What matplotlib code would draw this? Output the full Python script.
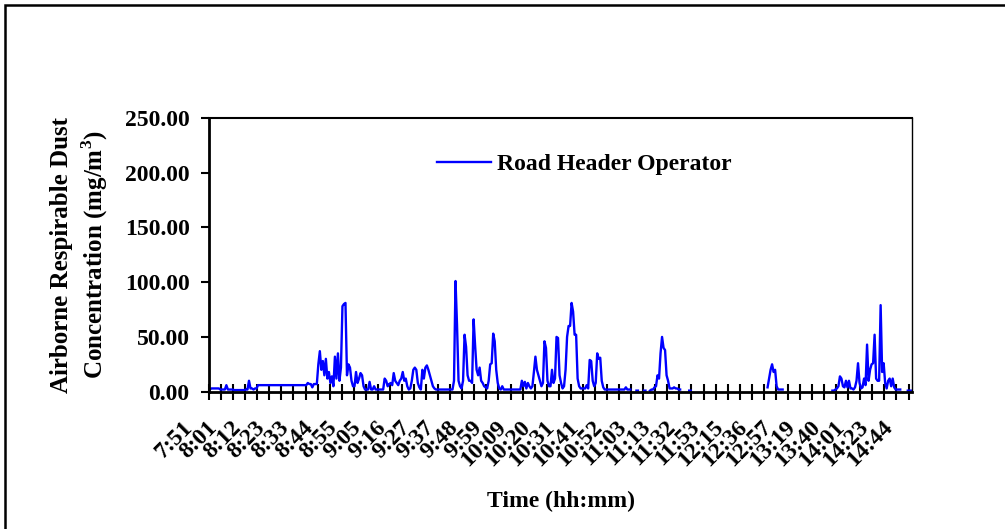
import numpy as np
import matplotlib
matplotlib.use("Agg")
import matplotlib.pyplot as plt
from matplotlib.patches import Rectangle
import matplotlib.transforms as mtransforms

plt.rcParams['font.family'] = ['Liberation Serif', 'DejaVu Serif']
plt.rcParams['font.weight'] = 'bold'
plt.rcParams['mathtext.fontset'] = 'custom'
plt.rcParams['mathtext.bf'] = 'Liberation Serif:bold'
plt.rcParams['mathtext.rm'] = 'Liberation Serif:bold'

time_labels = ['7:51', '8:01', '8:12', '8:23', '8:33', '8:44', '8:55', '9:05', '9:16',
               '9:27', '9:37', '9:48', '9:59', '10:09', '10:20', '10:31', '10:41',
               '10:52', '11:03', '11:13', '11:32', '11:53', '12:15', '12:36', '12:57',
               '13:19', '13:40', '14:01', '14:23', '14:44']

N = None
concentration = [
    2, 3, 3, 3, 3, 3, 3, 2,
    2, 2, 2, 6, 2, 2, 2, 2,
    1.5, 1.5, 1.5, 1.5, 1.5, 1.5, 1.5, 1.5,
    2, 2, 10, 3, 3, 2, 3, 3,
    6, 6, 6, 6, 6, 6, 6, 6,
    6, 6, 6, 6, 6, 6, 6, 6,
    6, 6, 6, 6, 6, 6, 6, 6,
    6, 6, 6, 6, 6, 6, 6, 6,
    6, 8, 7, 7, 4, 7, 7, 7,
    25, 37, 20, 28, 15, 30, 12, 18,
    8, 14, 5, 32, 12, 35, 10, 22,
    78, 80, 81, 15, 25, 22, 10, 5,
    5, 18, 8, 12, 17, 15, 5, 2,
    2, 2, 9, 2, 2, 5, 2, 2,
    2, 2, 2, 2, 12, 10, 5, 7,
    8, 6, 17, 10, 8, 6, 10, 12,
    18, 10, 12, 5, 2, 3, 10, 20,
    22, 20, 8, 4, 2, 20, 12, 22,
    24, 20, 15, 10, 5, 3, 2, 2,
    2, 2, 2, 2, 2, 2, 2, 2,
    2, 2, 10, 101, 61, 10, 5, 3,
    10, 52, 41, 15, 10, 10, 8, 66,
    42, 20, 15, 22, 10, 8, 5, 4,
    3, 10, 25, 26, 53, 46, 20, 8,
    3, 2, 5, 2, 2, 2, 2, 2,
    2, 2, 2, 2, 2, 2, 2, 10,
    5, 9, 3, 8, 5, 3, 5, 18,
    32, 20, 15, 10, 5, 8, 46, 40,
    10, 5, 5, 20, 8, 12, 50, 49,
    15, 8, 3, 5, 20, 50, 60, 60,
    81, 73, 52, 52, 12, 5, 3, 3,
    3, 3, 6, 3, 29, 28, 10, 5,
    8, 35, 30, 31, 10, 4, 2, 2,
    2, 2, 2, 2, 2, 2, 2, 2,
    2, 2, 2, 2, 4, 2, 2, 2,
    N, N, N, 1, 1, N, N, N,
    1, 1, N, N, 1, 2, 2, 4,
    5, 15, 12, 35, 50, 40, 38, 15,
    10, 3, 3, 3, 4, 3, 3, 2,
    2, N, N, N, N, N, 1, 1,
    N, N, N, N, N, N, N, N,
    N, N, N, N, N, N, N, N,
    N, N, N, N, N, N, N, N,
    N, N, N, N, N, N, N, N,
    N, N, N, N, N, N, N, N,
    N, N, N, N, N, N, N, N,
    N, N, 4, 12, 20, 25, 18, 20,
    5, 2, 2, 2, 2, N, N, N,
    N, N, N, N, N, N, N, N,
    N, N, N, N, N, N, N, N,
    N, N, N, N, N, N, N, N,
    N, N, N, N, N, 1, 1, 2,
    3, 5, 14, 12, 5, 4, 10, 4,
    10, 3, 3, 2, 4, 10, 26, 8,
    3, 4, 12, 6, 43, 10, 20, 25,
    26, 52, 12, 10, 10, 79, 18, 26,
    8, 3, 10, 12, 5, 12, 4, 2,
    2, 2, 2, N, N, N, N, 1,
    1, 1,
]

y = np.array(concentration, dtype=float)
n = len(y)
x = np.arange(n) + 0.5

fig = plt.figure(figsize=(10.05, 5.29), dpi=100)
ax = fig.add_axes([0.208, 0.2595, 0.699, 0.518])

ax.plot(x, y, color='#0000FF', lw=1.7, label='Road Header Operator')

ax.set_xlim(0, n)
ax.set_ylim(0, 250)
ax.set_yticks(np.arange(0, 251, 50))
ax.set_yticklabels([f'{v:.2f}' for v in np.arange(0, 251, 50)], fontsize=17, fontweight='bold')

minor_ticks = np.arange(0, n, 8)
ax.set_xticks(minor_ticks, minor=True)
label_pos = np.arange(0, len(time_labels)) * 16
ax.set_xticks(label_pos)
ax.set_xticklabels(time_labels, rotation=45, ha='right', va='top', fontsize=17, fontweight='bold')
ax.tick_params(axis='x', which='both', direction='inout', length=12, width=1.5, pad=12)
ax.tick_params(axis='y', direction='out', length=6, width=1.5, pad=8)

offset = mtransforms.ScaledTranslation(-12 / 100, 0, fig.dpi_scale_trans)
for lbl in ax.get_xticklabels():
    lbl.set_transform(lbl.get_transform() + offset)

for s in ['left', 'bottom']:
    ax.spines[s].set_linewidth(2)
ax.spines['top'].set_linewidth(1.5)
ax.spines['right'].set_linewidth(1)

ax.set_xlabel('Time (hh:mm)', fontsize=17, fontweight='bold')
ax.xaxis.set_label_coords(0.501, -0.362)
ax.set_ylabel('Airborne Respirable Dust\nConcentration (mg/m$^{\\mathbf{3}}$)', fontsize=18,
              fontweight='bold', linespacing=1.3)
ax.yaxis.set_label_coords(-0.141, 0.5)

leg = ax.legend(loc='upper left', bbox_to_anchor=(0.294, 0.947), frameon=False,
                handlelength=2.3, handletextpad=0.25, prop={'weight': 'bold', 'size': 17})

fig.patches.append(Rectangle((5 / 1005, -0.1), 1.2, (529 - 5) / 529 + 0.1,
                             transform=fig.transFigure, fill=False, edgecolor='black', lw=1.8))

fig.savefig('out.png', dpi=100)
